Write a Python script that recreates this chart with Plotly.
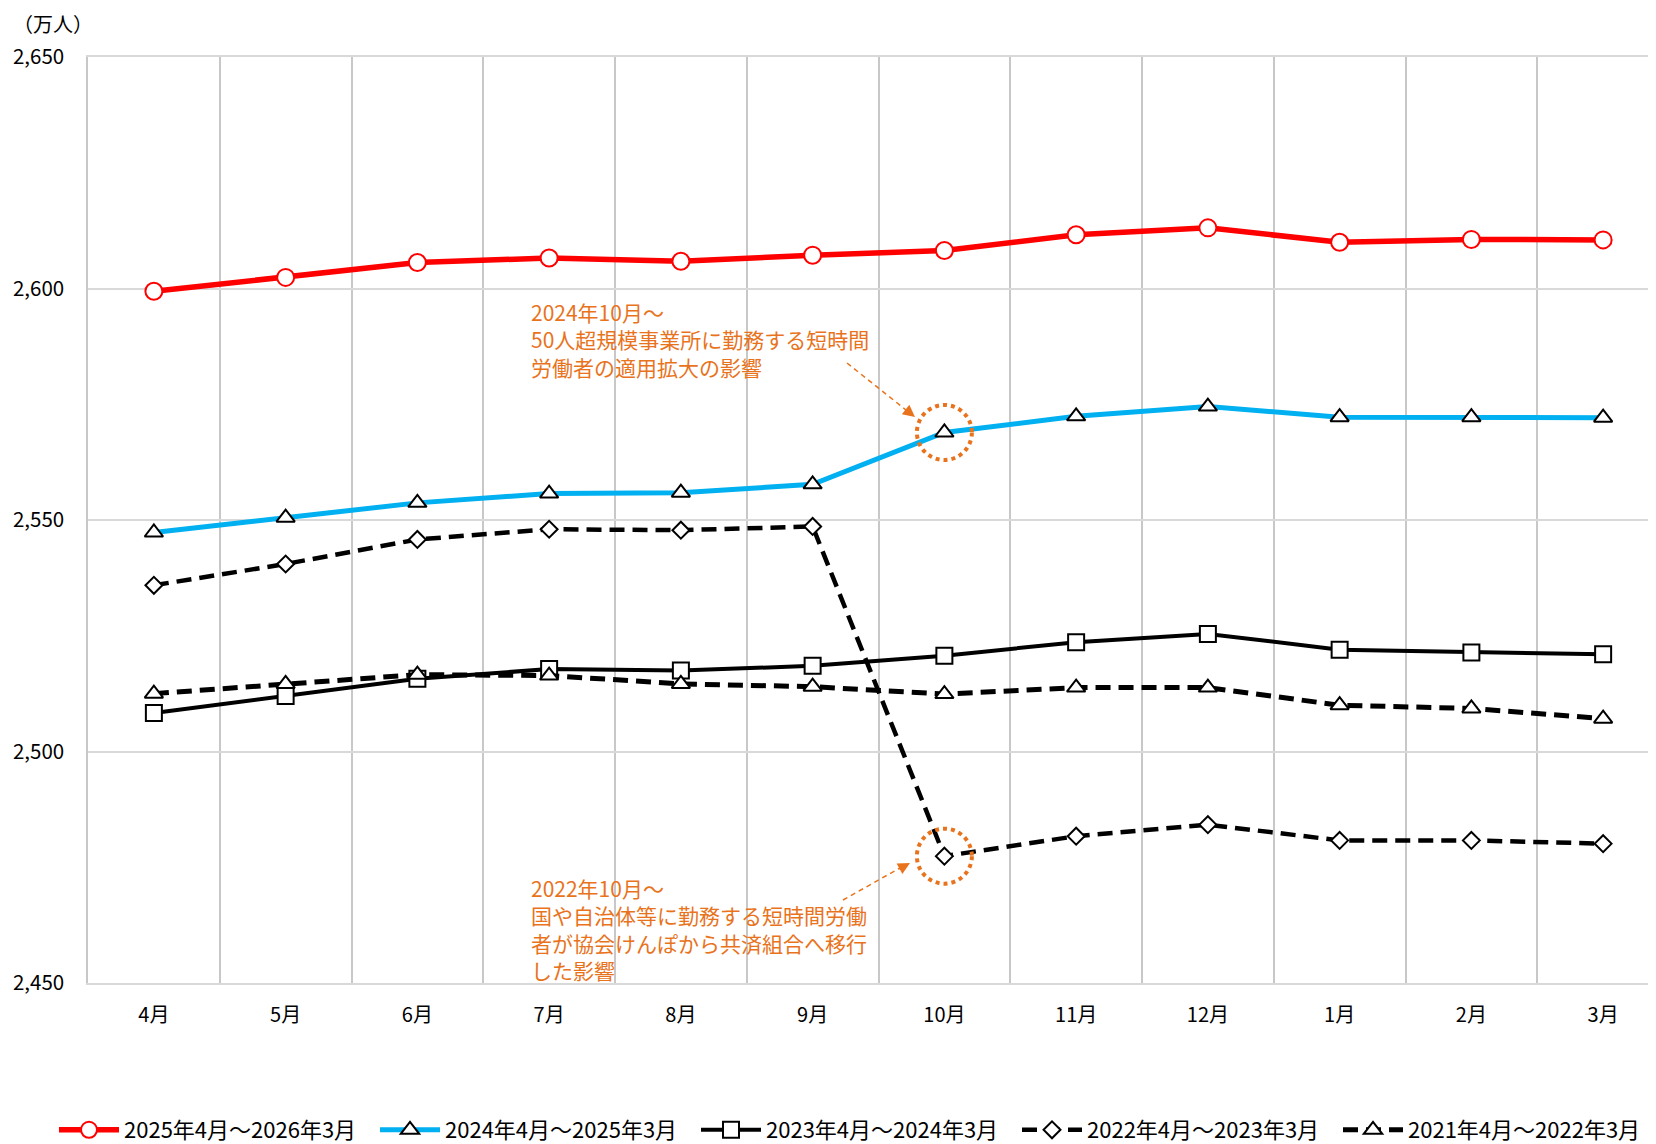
import plotly.graph_objects as go

months = ["4月", "5月", "6月", "7月", "8月", "9月", "10月", "11月", "12月", "1月", "2月", "3月"]

s2025 = [2599.4, 2602.4, 2605.6, 2606.6, 2605.9, 2607.2, 2608.2, 2611.6, 2613.1, 2610.0, 2610.6, 2610.5]
s2024 = [2547.3, 2550.5, 2553.7, 2555.7, 2555.9, 2557.7, 2568.9, 2572.4, 2574.5, 2572.2, 2572.2, 2572.1]
s2023 = [2508.3, 2512.0, 2515.7, 2517.8, 2517.5, 2518.5, 2520.7, 2523.6, 2525.4, 2522.0, 2521.4, 2521.0]
s2022 = [2535.9, 2540.5, 2545.8, 2548.0, 2547.8, 2548.6, 2477.4, 2481.7, 2484.2, 2480.8, 2480.8, 2480.1]
s2021 = [2512.5, 2514.6, 2516.6, 2516.4, 2514.6, 2514.0, 2512.4, 2513.8, 2513.8, 2510.0, 2509.3, 2507.1]

names = ["2025年4月～2026年3月", "2024年4月～2025年3月", "2023年4月～2024年3月",
         "2022年4月～2023年3月", "2021年4月～2022年3月"]

note1 = ["2024年10月～", "50人超規模事業所に勤務する短時間", "労働者の適用拡大の影響"]
note2 = ["2022年10月～", "国や自治体等に勤務する短時間労働", "者が協会けんぽから共済組合へ移行", "した影響"]

FONT = "Noto Sans CJK JP"
ORANGE = "#E8731C"
W, H = 1656, 1144
ML, MR, MT, MB = 80, 0, 49, 169
PW, PH = W - ML - MR, H - MT - MB
OFF = 8  # page body offset of the figure in the browser window

def px(v):
    return (v - OFF - ML) / PW

def py(v):
    return (H - MB - (v - OFF)) / PH

x = list(range(len(months)))

fig = go.Figure()
fig.add_trace(go.Scatter(x=x, y=s2025, name=names[0], mode="lines+markers",
                         line=dict(color="#FF0000", width=5.5),
                         marker=dict(symbol="circle", size=17, color="white",
                                     line=dict(color="#FF0000", width=2))))
fig.add_trace(go.Scatter(x=x, y=s2024, name=names[1], mode="lines+markers",
                         line=dict(color="#00B0F0", width=5),
                         marker=dict(symbol="triangle-up", size=16, color="white",
                                     line=dict(color="black", width=2))))
fig.add_trace(go.Scatter(x=x, y=s2023, name=names[2], mode="lines+markers",
                         line=dict(color="black", width=4),
                         marker=dict(symbol="square", size=16, color="white",
                                     line=dict(color="black", width=2))))
fig.add_trace(go.Scatter(x=x, y=s2022, name=names[3], mode="lines+markers",
                         line=dict(color="black", width=4.5, dash="15px,8px"),
                         marker=dict(symbol="diamond", size=13, color="white",
                                     line=dict(color="black", width=2))))
fig.add_trace(go.Scatter(x=x, y=s2021, name=names[4], mode="lines+markers",
                         line=dict(color="black", width=5, dash="15px,8px"),
                         marker=dict(symbol="triangle-up", size=16, color="white",
                                     line=dict(color="black", width=2))))

shapes = []
# white boxes behind annotation text (cover gridlines)
shapes.append(dict(type="rect", xref="paper", yref="paper", layer="between",
                   x0=px(527), x1=px(882), y0=py(366), y1=py(308),
                   fillcolor="white", line=dict(width=0)))
shapes.append(dict(type="rect", xref="paper", yref="paper", layer="between",
                   x0=px(527), x1=px(882), y0=py(953), y1=py(900),
                   fillcolor="white", line=dict(width=0)))
# dotted circles
for yv in (s2024[6], s2022[6]):
    shapes.append(dict(type="circle", xref="x", yref="y",
                       xsizemode="pixel", ysizemode="pixel",
                       xanchor=6, yanchor=yv, x0=-27.5, x1=27.5, y0=-27.5, y1=27.5,
                       line=dict(color=ORANGE, width=4, dash="dot")))
# dashed arrow shafts
shapes.append(dict(type="line", xref="paper", yref="paper",
                   x0=px(847), y0=py(363), x1=px(906), y1=py(410),
                   line=dict(color=ORANGE, width=1.5, dash="5px,4px")))
shapes.append(dict(type="line", xref="paper", yref="paper",
                   x0=px(843), y0=py(900), x1=px(900), y1=py(868),
                   line=dict(color=ORANGE, width=1.5, dash="5px,4px")))

annotations = []
annotations.append(dict(text="（万人）", xref="paper", yref="paper", x=px(11), y=py(23.5),
                        xanchor="left", yanchor="middle", showarrow=False,
                        font=dict(family=FONT, size=20, color="black")))
annotations.append(dict(text="<br>".join(note1), xref="paper", yref="paper", x=px(529), y=py(339),
                        xanchor="left", yanchor="middle", align="left", showarrow=False,
                        font=dict(family=FONT, size=21, color=ORANGE)))
annotations.append(dict(text="<br>".join(note2), xref="paper", yref="paper", x=px(529), y=py(929),
                        xanchor="left", yanchor="middle", align="left", showarrow=False,
                        font=dict(family=FONT, size=21, color=ORANGE)))
# arrowheads
annotations.append(dict(text="", xref="paper", yref="paper", x=px(915), y=py(417),
                        ax=-11, ay=-8.7, showarrow=True, arrowhead=2, arrowsize=1.6,
                        arrowwidth=1.5, arrowcolor=ORANGE))
annotations.append(dict(text="", xref="paper", yref="paper", x=px(910), y=py(863),
                        ax=-12.3, ay=6.8, showarrow=True, arrowhead=2, arrowsize=1.6,
                        arrowwidth=1.5, arrowcolor=ORANGE))

fig.update_layout(
    width=W, height=H,
    margin=dict(l=ML, r=MR, t=MT, b=MB),
    paper_bgcolor="white", plot_bgcolor="white",
    font=dict(family=FONT, color="black"),
    shapes=shapes, annotations=annotations,
    showlegend=True,
    legend=dict(orientation="h", x=px(54), xanchor="left", y=py(1151), yanchor="bottom",
                font=dict(family=FONT, size=22, color="black"),
                entrywidth=246, itemwidth=60, bgcolor="rgba(0,0,0,0)"),
    xaxis=dict(range=[-0.5, 11.462], tickvals=x, ticktext=months, showgrid=False,
               zeroline=False, showline=True, mirror=True, linecolor="#D9D9D9", linewidth=1.5,
               ticks="", ticklabelstandoff=13,
               tickfont=dict(family=FONT, size=20, color="black")),
    yaxis=dict(range=[2450, 2650], dtick=50, tickformat=",", showgrid=True,
               gridcolor="#D9D9D9", gridwidth=1.5, zeroline=False,
               showline=True, linecolor="#C8C8C8", linewidth=1.5,
               ticks="", ticklabelstandoff=18,
               tickfont=dict(family=FONT, size=20.5, color="black")),
)
fig.update_xaxes(minor=dict(tick0=0.5, dtick=1, showgrid=True, gridcolor="#C8C8C8", gridwidth=1.5))

fig.write_html("out.html")
